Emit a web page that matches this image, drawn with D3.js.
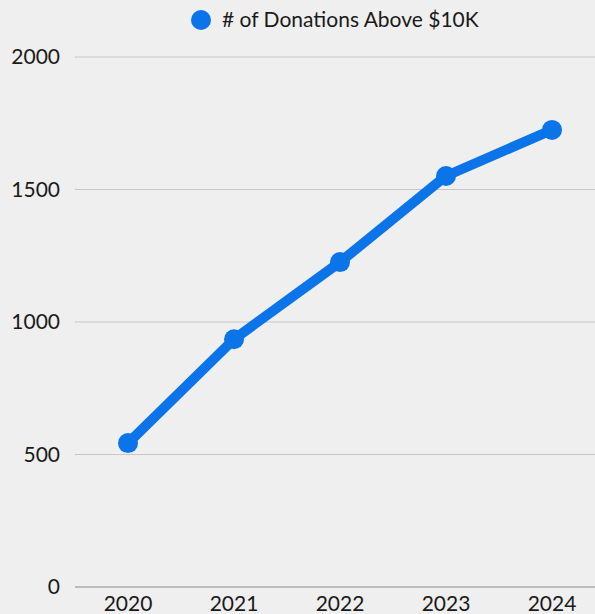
<!DOCTYPE html>
<html><head><meta charset="utf-8">
<script src="https://cdn.jsdelivr.net/npm/d3@7"></script>
<style>
html,body{margin:0;padding:0;background:#efefef;overflow:hidden}
svg{display:block;font-family:Lato,sans-serif}
</style></head>
<body>
<script>
const years = ["2020","2021","2022","2023","2024"];
const donations = [543, 935, 1226, 1551, 1725];
const yTicks = [0, 500, 1000, 1500, 2000];
const seriesName = "# of Donations Above $10K";

const W = 595, H = 614;
const m = {left: 75, top: 57, bottom: 27};
const FS = 21;
const svg = d3.select("body").append("svg").attr("width", W).attr("height", H);
svg.append("rect").attr("width", W).attr("height", H).attr("fill", "#efefef");

const x = d3.scaleBand().domain(years).range([m.left, 605]);
const y = d3.scaleLinear().domain([0, 2000]).range([H - m.bottom, m.top]);

const grid = svg.append("g");
grid.selectAll("line").data(yTicks).join("line")
  .attr("x1", m.left).attr("x2", W)
  .attr("y1", d => y(d)).attr("y2", d => y(d))
  .attr("stroke", d => d === 0 ? "#8a8a8a" : "#c6c6c6")
  .attr("stroke-width", 1);

const yAxis = d3.axisLeft(y).tickValues(yTicks).tickFormat(d3.format("d")).tickSize(0).tickPadding(0);
const ya = svg.append("g").attr("transform", `translate(60,0)`).call(yAxis);
ya.select(".domain").remove();
ya.selectAll("text").attr("font-size", FS).attr("fill", "#1a1a1a").attr("font-family", "Lato");

const xAxis = d3.axisBottom(x).tickSize(0).tickPadding(0);
const xa = svg.append("g").attr("transform", `translate(0,${H - m.bottom + 9})`).call(xAxis);
xa.select(".domain").remove();
xa.selectAll("text").attr("font-size", FS).attr("fill", "#1a1a1a").attr("font-family", "Lato");

const color = "#0a74e8";
const line = d3.line().x((d, i) => x(years[i]) + x.bandwidth() / 2).y(d => y(d));
svg.append("path").datum(donations).attr("d", line)
  .attr("fill", "none").attr("stroke", color).attr("stroke-width", 10)
  .attr("stroke-linejoin", "round");
svg.selectAll("circle.pt").data(donations).join("circle").attr("class", "pt")
  .attr("cx", (d, i) => x(years[i]) + x.bandwidth() / 2)
  .attr("cy", d => y(d)).attr("r", 10).attr("fill", color);

const lg = svg.append("g");
lg.append("circle").attr("cx", 201).attr("cy", 20).attr("r", 10).attr("fill", color);
lg.append("text").attr("x", 222).attr("y", 27).attr("font-size", FS).attr("fill", "#1a1a1a")
  .text(seriesName);
</script>
</body></html>
